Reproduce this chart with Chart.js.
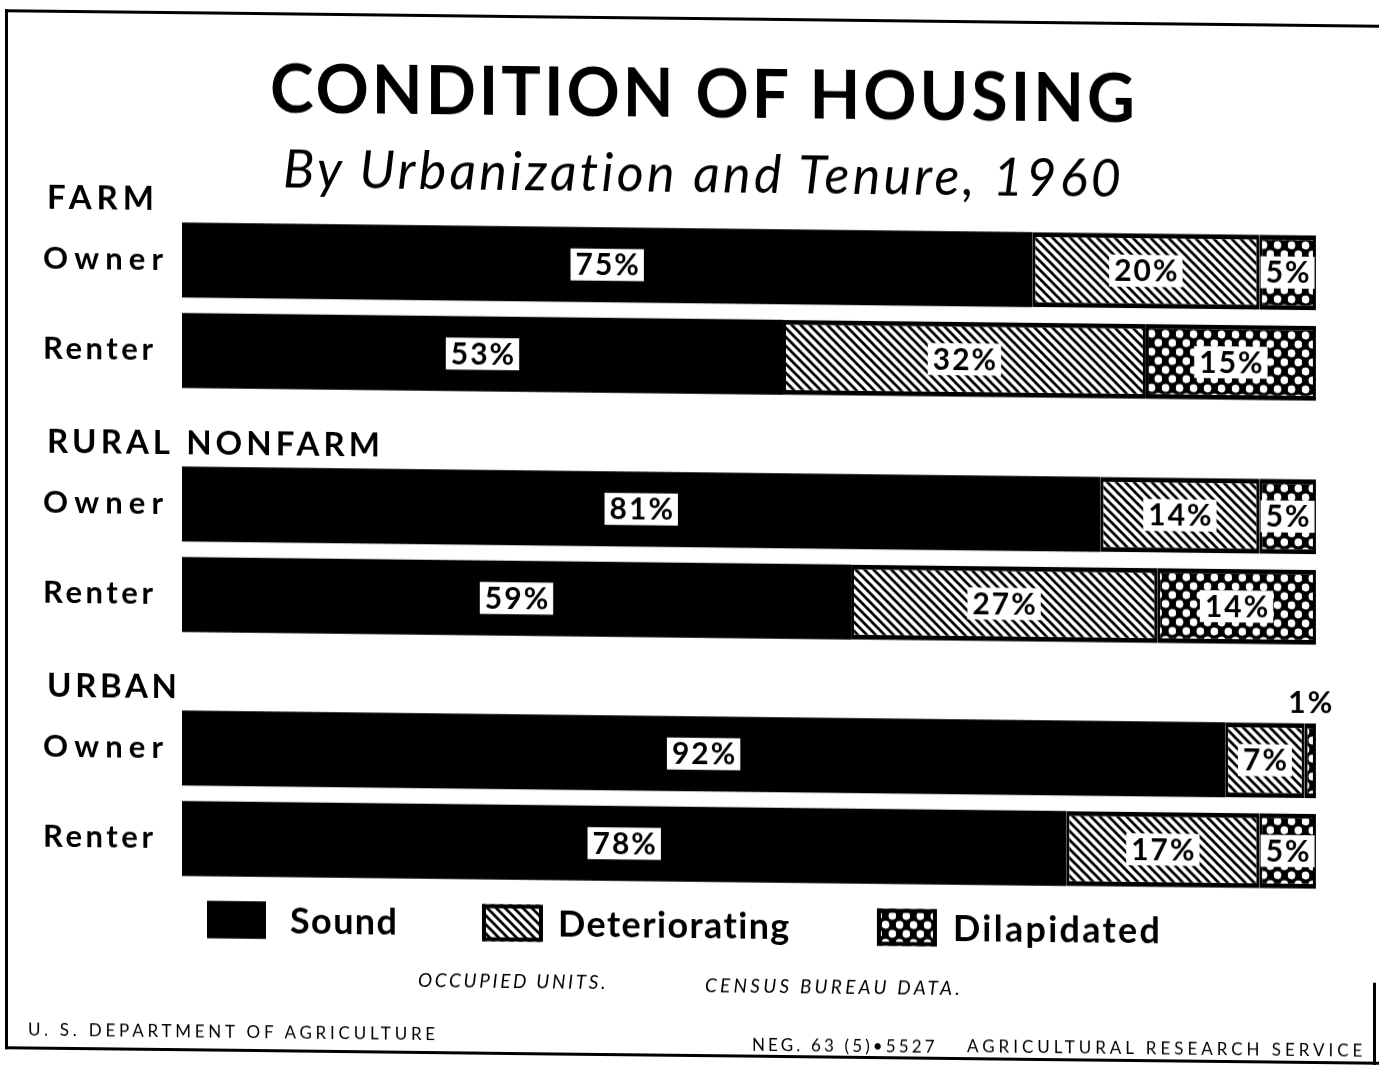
<!DOCTYPE html>
<html>
<head>
<meta charset="utf-8">
<script src="https://cdn.jsdelivr.net/npm/chart.js@4.4.0/dist/chart.umd.min.js"></script>
<style>
html, body { margin: 0; padding: 0; background: #fff; overflow: hidden; }
#page { position: relative; width: 1379px; height: 1065px; transform: skewY(0.65deg); transform-origin: 689.5px 532.5px; font-family: Lato, 'DejaVu Sans', sans-serif; color: #000; }
#c { position: absolute; left: 0; top: 0; }
.t { position: absolute; white-space: nowrap; line-height: 1; }
#frame { position: absolute; left: 5px; top: 17px; width: 1400px; height: 1040px; box-sizing: border-box; border-left: 3px solid #000; border-top: 3px solid #000; border-bottom: 3px solid #000; }
#rframe { position: absolute; left: 1373px; top: 975px; width: 3px; height: 90px; background: #000; }
</style>
</head>
<body>
<div id="page">
  <div id="frame"></div>
  <div id="rframe"></div>
  <canvas id="c" width="1379" height="1065"></canvas>
  <div class="t" data-w="865" style="left:270px; top:59px; font-size:66px; font-weight:700;">CONDITION OF HOUSING</div>
  <div class="t" data-w="837" style="left:283px; top:146px; font-size:52px; font-style:italic;">By Urbanization and Tenure, 1960</div>
  <div class="t" data-w="188" style="left:418px; top:973px; font-size:19px; font-style:italic;">OCCUPIED UNITS.</div>
  <div class="t" data-w="255" style="left:705px; top:975px; font-size:19px; font-style:italic;">CENSUS BUREAU DATA.</div>
  <div class="t" data-w="407" style="left:28px; top:1028px; font-size:17px;">U. S. DEPARTMENT OF AGRICULTURE</div>
  <div class="t" data-w="183" style="left:752px; top:1035px; font-size:17px;">NEG. 63 (5)•5527</div>
  <div class="t" data-w="395" style="left:967px; top:1034px; font-size:17px;">AGRICULTURAL RESEARCH SERVICE</div>
</div>
<script>
// ---- data ----
const groups = ['FARM', 'RURAL NONFARM', 'URBAN'];
const tenures = ['Owner', 'Renter'];
const conditions = ['Sound', 'Deteriorating', 'Dilapidated'];
const ownerSound = [75, 81, 92];
const ownerDeteriorating = [20, 14, 7];
const ownerDilapidated = [5, 5, 1];
const renterSound = [53, 59, 78];
const renterDeteriorating = [32, 27, 17];
const renterDilapidated = [15, 14, 5];

// ---- fit letter spacing of html texts ----
document.querySelectorAll('.t[data-w]').forEach(el => {
  el.style.letterSpacing = '0px';
  const n = el.textContent.length;
  const w0 = el.offsetWidth;
  const target = +el.dataset.w;
  el.style.letterSpacing = ((target - w0) / (n - 1)) + 'px';
});

// ---- patterns ----
function hatchPattern() {
  const s = 9, c = document.createElement('canvas');
  c.width = s; c.height = s;
  const g = c.getContext('2d');
  g.fillStyle = '#fff'; g.fillRect(0, 0, s, s);
  g.strokeStyle = '#000'; g.lineWidth = 2.7;
  for (let k = -1; k <= 1; k++) {
    g.beginPath(); g.moveTo(k * s - s, -s); g.lineTo(k * s + 2 * s, 2 * s); g.stroke();
  }
  return g.createPattern(c, 'repeat');
}
function dotPattern() {
  const w = 14, h = 18, c = document.createElement('canvas');
  c.width = w; c.height = h;
  const g = c.getContext('2d');
  g.fillStyle = '#000'; g.fillRect(0, 0, w, h);
  g.fillStyle = '#fff';
  [[3.5, 4.5], [10.5, 13.5]].forEach(([x, y]) => { g.beginPath(); g.arc(x, y, 3.9, 0, Math.PI * 2); g.fill(); });
  return g.createPattern(c, 'repeat');
}
const fills = ['#000', hatchPattern(), dotPattern()];

const seriesByTenure = {
  Owner: [ownerSound, ownerDeteriorating, ownerDilapidated],
  Renter: [renterSound, renterDeteriorating, renterDilapidated]
};

const datasets = [];
tenures.forEach(t => conditions.forEach((cond, k) => {
  datasets.push({
    label: cond,
    stack: t,
    data: seriesByTenure[t][k],
    backgroundColor: fills[k],
    borderColor: '#000',
    borderWidth: k === 0 ? 0 : { top: 5, bottom: 5, left: 3, right: 3 },
    borderSkipped: false,
    categoryPercentage: 0.742,
    barPercentage: 0.829
  });
}));

// ---- text helper ----
function spacedText(ctx, text, x, y, targetW, align) {
  ctx.textAlign = 'left';
  if ('letterSpacing' in ctx) ctx.letterSpacing = '0px';
  const w0 = ctx.measureText(text).width;
  const n = text.length;
  const ls = targetW ? (targetW - w0) / Math.max(1, n - 1) : 0;
  const W = targetW || w0;
  const x0 = align === 'center' ? x - W / 2 : x;
  if ('letterSpacing' in ctx) {
    ctx.letterSpacing = ls + 'px';
    ctx.fillText(text, x0, y);
    ctx.letterSpacing = '0px';
  } else {
    let cx = x0;
    for (const ch of text) { ctx.fillText(ch, cx, y); cx += ctx.measureText(ch).width + ls; }
  }
}

const FONT = "Lato, 'DejaVu Sans', sans-serif";
const overlay = {
  id: 'overlay',
  afterDatasetsDraw(chart) {
    const ctx = chart.ctx;
    ctx.save();
    ctx.fillStyle = '#000';
    ctx.textBaseline = 'alphabetic';
    const tenureW = [120, 110];
    const groupW = [107, 333, 130];
    groups.forEach((g, j) => {
      tenures.forEach((t, k) => {
        const bar = chart.getDatasetMeta(k * conditions.length).data[j];
        ctx.font = '700 31px ' + FONT;
        spacedText(ctx, t, 43, bar.y - 1 + 0.358 * 31, tenureW[k]);
        if (k === 0) {
          ctx.font = '700 33px ' + FONT;
          spacedText(ctx, g, 47, bar.y - 62 + 0.358 * 33, groupW[j]);
        }
      });
    });
    // value labels
    chart.data.datasets.forEach((ds, i) => {
      const meta = chart.getDatasetMeta(i);
      meta.data.forEach((el, j) => {
        const v = ds.data[j];
        const txt = v + '%';
        const cx = (el.x + el.base) / 2;
        ctx.font = '700 30px ' + FONT;
        if ('letterSpacing' in ctx) ctx.letterSpacing = '0px';
        const tw = ctx.measureText(txt).width + 2 * (txt.length - 1);
        if (v < 3) {
          ctx.fillStyle = '#000';
          spacedText(ctx, txt, cx, el.y - el.height / 2 - 21 + 0.358 * 30, tw, 'center');
        } else {
          const bw = tw + 10, bh = 32;
          ctx.fillStyle = '#fff';
          ctx.fillRect(cx - bw / 2, el.y - bh / 2, bw, bh);
          ctx.fillStyle = '#000';
          spacedText(ctx, txt, cx, el.y + 0.358 * 30, tw, 'center');
        }
      });
    });
    // legend
    const items = [
      { bx: 207, bw: 59, tx: 290, tw: 107 },
      { bx: 482, bw: 61, tx: 558, tw: 232 },
      { bx: 877, bw: 60, tx: 953, tw: 207 }
    ];
    const ly = 925;
    conditions.forEach((cond, k) => {
      const it = items[k];
      ctx.fillStyle = chart.data.datasets[k].backgroundColor;
      ctx.fillRect(it.bx, ly - 18.5, it.bw, 37);
      ctx.strokeStyle = '#000'; ctx.lineWidth = 4;
      ctx.strokeRect(it.bx + 2, ly - 16.5, it.bw - 4, 33);
      ctx.fillStyle = '#000';
      ctx.font = '700 36px ' + FONT;
      spacedText(ctx, cond, it.tx, ly + 0.358 * 36, it.tw);
    });
    ctx.restore();
  }
};

new Chart(document.getElementById('c'), {
  type: 'bar',
  data: { labels: groups, datasets },
  options: {
    indexAxis: 'y',
    responsive: false,
    animation: false,
    layout: { padding: { left: 182, right: 63, top: 189, bottom: 144 } },
    plugins: { legend: { display: false }, tooltip: { enabled: false }, title: { display: false } },
    scales: {
      x: { stacked: true, min: 0, max: 100, display: false },
      y: { stacked: true, display: false }
    }
  },
  plugins: [overlay]
});
</script>
</body>
</html>
